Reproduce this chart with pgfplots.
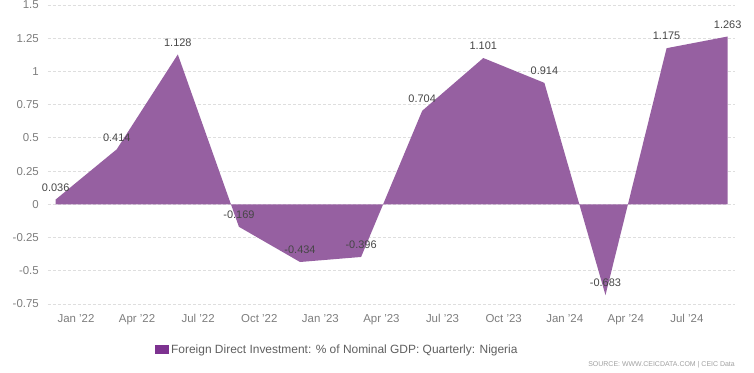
\documentclass[border=0pt]{standalone}
\usepackage{fontspec}
\setmainfont{Liberation Sans}
\usepackage{pgfplots}
\pgfplotsset{compat=1.18}
\usepackage{pgfplotstable}
\definecolor{fdi}{RGB}{150,96,161}
\definecolor{fdileg}{RGB}{125,50,144}
\definecolor{tickgray}{RGB}{125,125,125}
\definecolor{labelgray}{RGB}{70,70,70}
\definecolor{legendgray}{RGB}{95,95,95}
\definecolor{gridgray}{RGB}{222,222,222}
\definecolor{srcgray}{RGB}{160,160,160}

\pgfplotstableread{
x y label
-1 0.036 0.036
2 0.414 0.414
5 1.128 1.128
8 -0.169 -0.169
11 -0.434 -0.434
14 -0.396 -0.396
17 0.704 0.704
20 1.101 1.101
23 0.914 0.914
26 -0.683 -0.683
29 1.175 1.175
32 1.263 1.263
}\fdidata

\begin{document}
\begin{tikzpicture}
\path[use as bounding box] (-48bp,-69bp) rectangle (706bp,304bp);
\begin{axis}[
  at={(0,0)}, anchor=south west,
  scale only axis, width=687bp, height=299bp,
  xmin=-1.375, xmax=32.36, ymin=-0.75, ymax=1.5,
  xtick={0,3,6,9,12,15,18,21,24,27,30},
  xticklabels={Jan '22,Apr '22,Jul '22,Oct '22,Jan '23,Apr '23,Jul '23,Oct '23,Jan '24,Apr '24,Jul '24},
  ytick={-0.75,-0.5,-0.25,0,0.25,0.5,0.75,1,1.25,1.5},
  yticklabels={-0.75,-0.5,-0.25,0,0.25,0.5,0.75,1,1.25,1.5},
  axis line style={draw=none},
  major tick length=0pt,
  ymajorgrids,
  grid style={gridgray, dash pattern=on 3bp off 2bp, line width=0.8bp},
  tick label style={font=\fontsize{11.5}{13}\selectfont, text=tickgray, inner sep=0pt},
  yticklabel style={anchor=east, xshift=-9bp},
  xticklabel style={anchor=north, yshift=-10bp},
  legend style={at={(axis description cs:0.1557,-0.1538)}, anchor=west, draw=none, fill=none,
    inner sep=0pt, font=\fontsize{12}{14}\selectfont, text=legendgray},
  legend image code/.code={\fill[fdileg] (0bp,-4.5bp) rectangle (14bp,4.5bp);},
  clip=false,
]
\addplot[fill=fdi, draw=none] table[x=x, y=y] {\fdidata} \closedcycle;
\addlegendentry{Foreign Direct Investment: \% of Nominal GDP: Quarterly: Nigeria}
\addplot[draw=none, mark=none, nodes near coords, point meta=explicit symbolic,
  nodes near coords style={anchor=center, yshift=12bp, font=\fontsize{11}{12}\selectfont,
  text=labelgray, inner sep=0pt}]
  table[x=x, y=y, meta=label] {\fdidata};
\end{axis}
\node[anchor=east, inner sep=0pt, font=\fontsize{7}{8}\selectfont, text=srcgray] at (687bp,-61bp)
  {SOURCE: WWW.CEICDATA.COM | CEIC Data};
\end{tikzpicture}
\end{document}
